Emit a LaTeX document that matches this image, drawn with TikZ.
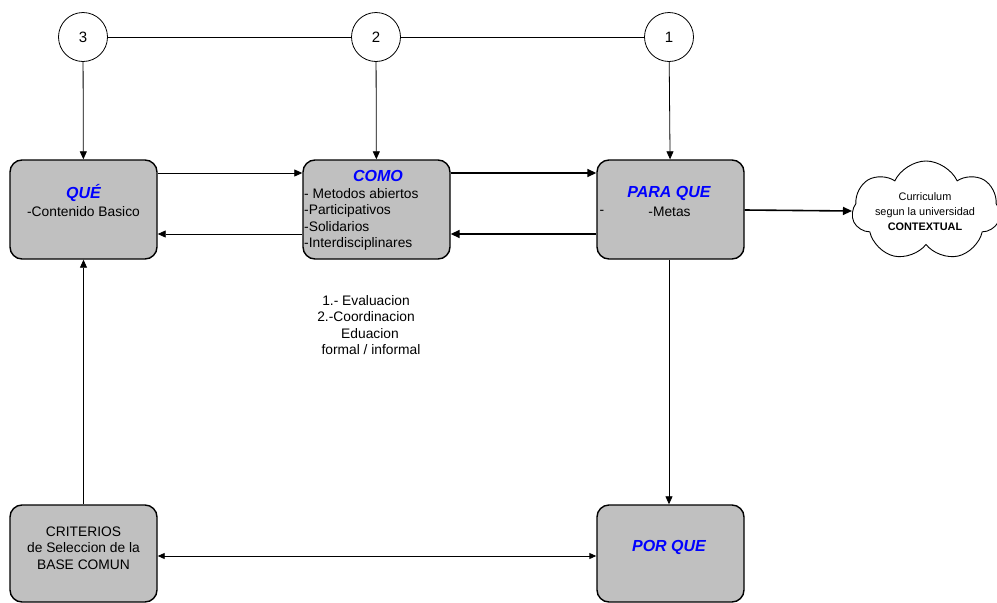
\documentclass[tikz,border=0pt]{standalone}
\usepackage{fontspec}
\setmainfont{Liberation Sans}
\usetikzlibrary{arrows.meta,shapes.symbols}
\definecolor{boxgray}{RGB}{192,192,192}
\definecolor{titleblue}{RGB}{0,0,255}
\begin{document}
\begin{tikzpicture}[x=1pt,y=-1pt,
  stagebox/.style={draw=black,line width=1.4pt,fill=boxgray,rounded corners=12pt,
    minimum width=147pt,minimum height=99pt,inner sep=0pt},
  numcircle/.style={circle,draw=black,line width=0.8pt,fill=white,minimum size=49pt,
    inner sep=0pt,font=\fontsize{15}{18}\selectfont},
  boxtitle/.style={inner sep=0pt,text=titleblue,font=\fontsize{16}{19}\selectfont\bfseries\itshape},
  bodytext/.style={inner sep=0pt,font=\fontsize{13.8}{16.5}\selectfont},
  thinline/.style={line width=0.8pt},
  thinarrow/.style={line width=0.8pt,-{Triangle[length=8pt,width=7pt]}},
  thickarrow/.style={line width=1.6pt,-{Triangle[length=9pt,width=8pt]}}]
\useasboundingbox (0,0) rectangle (997,603);

% numbered circles along the top
\node[numcircle] (c3) at (83,37) {3};
\node[numcircle] (c2) at (376,37) {2};
\node[numcircle] (c1) at (669,37) {1};

% stage boxes
\node[stagebox] (que) at (83.5,209.5) {};
\node[stagebox] (como) at (376.5,209.5) {};
\node[stagebox] (para) at (670.5,209.5) {};
\node[stagebox,minimum height=97pt] (crit) at (83.5,553.5) {};
\node[stagebox,minimum height=97pt] (porque) at (670.5,553.5) {};

% cloud
\node[cloud,draw=black,line width=0.9pt,fill=white,cloud puffs=7,cloud puff arc=130,
  aspect=1.45,minimum width=148pt,minimum height=100pt,inner sep=0pt] (cloud) at (926,211) {};

% texts inside the boxes
\node[boxtitle] (queT) at (83.5,193) {QUÉ};
\node[bodytext] (queB) at (83.5,212) {-Contenido Basico};

\node[boxtitle] (comoT) at (378,176) {COMO};
\node[bodytext,align=left,anchor=west] (comoB) at (304,219.5)
  {- Metodos abiertos\\-Participativos\\-Solidarios\\-Interdisciplinares};

\node[boxtitle] (paraT) at (669,193) {PARA QUE};
\node[bodytext] (paraB) at (669.5,212) {-Metas};
\node[bodytext] (paraD) at (602,212) {-};

\node[bodytext,align=center] (critT) at (83.5,548)
  {CRITERIOS\\de Seleccion de la\\BASE COMUN};
\node[boxtitle] (porqueT) at (669,547) {POR QUE};

\node[inner sep=0pt,align=center,font=\fontsize{10.9}{15}\selectfont] (cloudT) at (925,212)
  {Curriculum\\segun la universidad\\\textbf{CONTEXTUAL}};

% free text under COMO
\node[bodytext,align=center] (mid) at (366,325)
  {1.- Evaluacion\\2.-Coordinacion\\\hspace*{8pt}Eduacion\\\hspace*{10pt}formal / informal};

% connectors
\draw[thinline] (c3) -- (c2);
\draw[thinline] (c2) -- (c1);
\draw[thinarrow] (c3) -- (que);
\draw[thinarrow] (c2) -- (como);
\draw[thinarrow] (c1) -- (para);

\draw[thinarrow] ([yshift=36.5pt]que.east) -- ([yshift=36.5pt]como.west);
\draw[thinarrow] ([yshift=-24.5pt]como.west) -- ([yshift=-24.5pt]que.east);
\draw[thickarrow] ([yshift=36.5pt]como.east) -- ([yshift=36.5pt]para.west);
\draw[thickarrow] ([yshift=-24.5pt]para.west) -- ([yshift=-24.5pt]como.east);

\draw[thickarrow] ([yshift=-0.5pt]para.east) -- (cloud.west);
\draw[thinarrow] ([xshift=-1.5pt]para.south) -- ([xshift=-1.5pt]porque.north);
\draw[thinarrow] (crit.north) -- (que.south);
\draw[line width=0.9pt,{Triangle[length=7pt,width=6pt]}-{Triangle[length=7pt,width=6pt]}]
  ([yshift=-2.5pt]crit.east) -- ([yshift=-2.5pt]porque.west);
\end{tikzpicture}
\end{document}
